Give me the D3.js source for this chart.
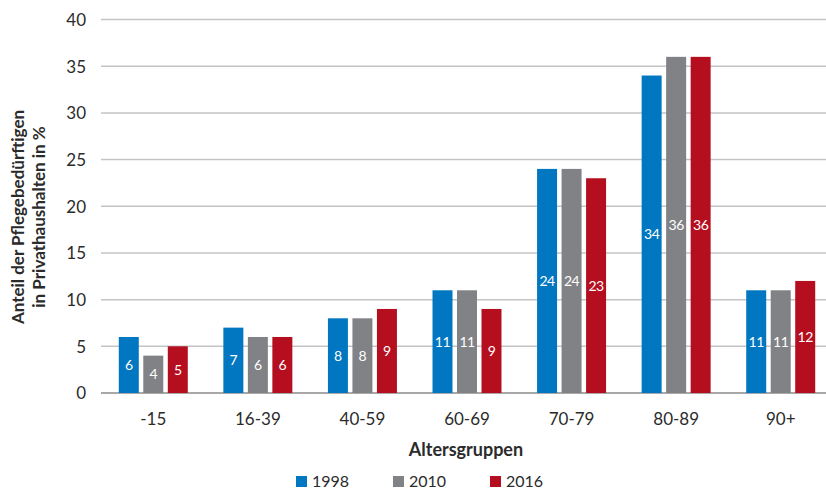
<!DOCTYPE html>
<html>
<head>
<meta charset="utf-8">
<script src="https://cdn.jsdelivr.net/npm/d3@7"></script>
<style>
  body { margin: 0; background: #fff; }
  text { font-family: Lato, "Open Sans", sans-serif; fill: #2b2b2b; }
</style>
</head>
<body>
<script>
let groups = ["-15", "16-39", "40-59", "60-69", "70-79", "80-89", "90+"];
let years = ["1998", "2010", "2016"];
let v1998 = [6, 7, 8, 11, 24, 34, 11];
let v2010 = [4, 6, 8, 11, 24, 36, 11];
let v2016 = [5, 6, 9, 9, 23, 36, 12];
let yTicks = [0, 5, 10, 15, 20, 25, 30, 35, 40];
let colors = ["#0077c0", "#818286", "#b50e1e"];

let w = 826, h = 491;
let svg = d3.select("body").append("svg").attr("width", w).attr("height", h);

let x = d3.scaleBand().domain(groups).range([101, 833]);
let xi = d3.scaleBand().domain(years).range([0, x.bandwidth()]).paddingInner(0.184).paddingOuter(0.726);
let y = d3.scaleLinear().domain([0, 40]).range([393, 19.5]);

// grid
svg.append("g").selectAll("line")
   .data(yTicks)
   .enter().append("line")
     .attr("x1", 101).attr("x2", w)
     .attr("y1", d => y(d)).attr("y2", d => y(d))
     .attr("stroke", d => d == 0 ? "#a8a8a8" : "#c4c4c4")
     .attr("stroke-width", d => d == 0 ? 2 : 1.5);

let yAxis = d3.axisLeft(y).tickValues(yTicks).tickSize(0).tickPadding(0);
svg.append("g").attr("transform", "translate(86,0)").call(yAxis)
   .call(g => g.select(".domain").remove())
   .selectAll("text").style("font-size", "17px").attr("fill", "#2b2b2b").attr("dy", "0.35em");

let xAxis = d3.axisBottom(x).tickSize(0).tickPadding(0);
svg.append("g").attr("transform", "translate(0,413)").call(xAxis)
   .call(g => g.select(".domain").remove())
   .selectAll("text").style("font-size", "17px").attr("fill", "#2b2b2b");

let series = [v1998, v2010, v2016];
let rows = [];
series.forEach((s, k) => s.forEach((v, i) => rows.push({g: groups[i], yr: years[k], v: v, c: colors[k]})));

let bars = svg.append("g");
bars.selectAll("rect")
    .data(rows)
    .enter().append("rect")
      .attr("x", d => x(d.g) + xi(d.yr))
      .attr("width", xi.bandwidth())
      .attr("y", d => y(d.v))
      .attr("height", d => y(0) - y(d.v))
      .attr("fill", d => d.c);

bars.selectAll("text")
    .data(rows)
    .enter().append("text")
      .attr("x", d => x(d.g) + xi(d.yr) + xi.bandwidth() / 2)
      .attr("y", d => (y(d.v) + y(0)) / 2)
      .attr("dy", "0.35em")
      .attr("text-anchor", "middle")
      .style("font-size", "14px")
      .style("letter-spacing", "-0.5px")
      .style("fill", "#fff")
      .text(d => d.v);

// axis titles
svg.append("text")
   .attr("transform", "translate(24,217) rotate(-90)")
   .attr("text-anchor", "middle")
   .style("font-size", "17px").style("font-weight", "bold")
   .text("Anteil der Pflegebedürftigen");
svg.append("text")
   .attr("transform", "translate(45,217) rotate(-90)")
   .attr("text-anchor", "middle")
   .style("font-size", "17px").style("font-weight", "bold")
   .text("in Privathaushalten in %");

svg.append("text")
   .attr("x", 466).attr("y", 456)
   .attr("text-anchor", "middle")
   .style("font-size", "18px").style("font-weight", "bold")
   .text("Altersgruppen");

// legend
let legendX = [296, 393, 490];
let legend = svg.append("g").selectAll("g")
   .data(years)
   .enter().append("g")
     .attr("transform", (d, i) => "translate(" + legendX[i] + ",476)");
legend.append("rect").attr("width", 11).attr("height", 11).attr("fill", (d, i) => colors[i]);
legend.append("text").attr("x", 16).attr("y", 5.5).attr("dy", "0.36em")
   .style("font-size", "16px").text(d => d);
</script>
</body>
</html>
